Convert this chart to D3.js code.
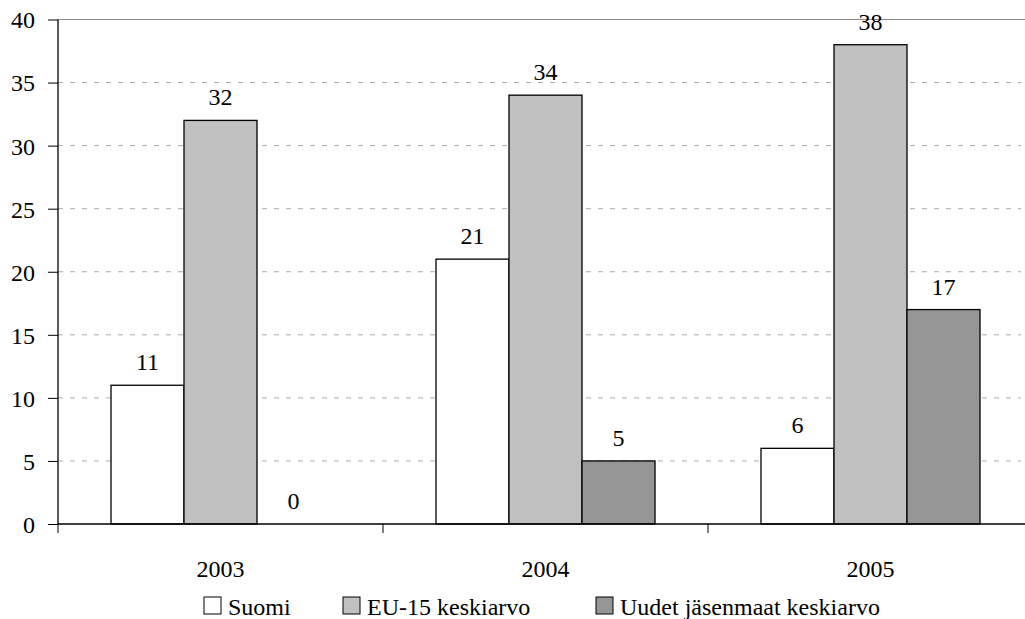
<!DOCTYPE html>
<html><head><meta charset="utf-8">
<script src="https://cdn.jsdelivr.net/npm/d3@7"></script>
<style>
svg text, text, #c text { font-family: "Liberation Serif", "Times New Roman", Tinos, serif !important; }
</style>
</head>
<body style="margin:0">
<svg id="c" width="1025" height="619" style="display:block"></svg>
<script>
const years = ["2003","2004","2005"];
const seriesNames = ["Suomi","EU-15 keskiarvo","Uudet jäsenmaat keskiarvo"];
const suomi = [11,21,6];
const eu15 = [32,34,38];
const uudet = [0,5,17];
const yTicks = [0,5,10,15,20,25,30,35,40];
const colors = ["#ffffff","#c0c0c0","#969696"];

const FONT = '"Liberation Serif", "Times New Roman", Tinos, serif';
const allSeries = [suomi, eu15, uudet];
const svg = d3.select("#c");
const L = 58, R = 1033, T = 19.5, B = 524;
const fs = 24;

const x = d3.scaleBand().domain(years).range([L, R]).paddingInner(0).paddingOuter(0);
const xs = d3.scaleBand().domain(seriesNames).range([53, x.bandwidth()-53]).padding(0);
const y = d3.scaleLinear().domain([0,40]).range([B, T]);

function serif(sel){ return sel.attr("font-size", fs).style("font-family", FONT, "important"); }

// gridlines
svg.append("g").selectAll("line").data(yTicks.filter(v=>v>0)).join("line")
  .attr("x1", L).attr("x2", v => v===40 ? 1025 : 1021)
  .attr("y1", v=>y(v)).attr("y2", v=>y(v))
  .attr("stroke", v => v===40 ? "#888" : "#aaa")
  .attr("stroke-width", 1)
  .attr("stroke-dasharray", v => v===40 ? null : "5,7");

// bars
const rows = [];
years.forEach((yr,i)=>seriesNames.forEach((s,j)=>rows.push({yr, s, j, v: allSeries[j][i]})));
svg.append("g").selectAll("rect").data(rows.filter(d=>d.v>0)).join("rect")
  .attr("x", d => x(d.yr)+xs(d.s))
  .attr("y", d => y(d.v))
  .attr("width", xs.bandwidth())
  .attr("height", d => y(0)-y(d.v))
  .attr("fill", d => colors[d.j])
  .attr("stroke", "#000").attr("stroke-width", 1.3);

// value labels
svg.selectAll("text.val").data(rows).join("text")
  .attr("class","val")
  .attr("x", d => x(d.yr)+xs(d.s)+xs.bandwidth()/2)
  .attr("y", d => y(d.v)-15)
  .attr("text-anchor","middle")
  .call(serif)
  .text(d => d.v);

// y axis (built from the scale)
const ya = svg.append("g").attr("transform", `translate(${L},0)`)
  .call(d3.axisLeft(y).tickValues(yTicks).tickSize(10).tickPadding(13));
ya.attr("font-family", FONT).attr("font-size", fs);
ya.select(".domain").attr("stroke","#000").attr("stroke-width",1.3).attr("d", `M0,${T}V${B}`);
ya.selectAll(".tick line").attr("stroke","#000");
ya.selectAll(".tick text").call(serif).attr("fill","#000").attr("dy","0.35em");

// x axis
svg.append("line").attr("x1", L).attr("x2", 1025).attr("y1", B).attr("y2", B)
  .attr("stroke","#000").attr("stroke-width",1.3);
const bounds = years.map(d=>x(d)).concat([x(years[years.length-1])+x.bandwidth()]);
svg.append("g").selectAll("line").data(bounds).join("line")
  .attr("x1", d=>d).attr("x2", d=>d).attr("y1", B).attr("y2", B+9)
  .attr("stroke","#000").attr("stroke-width",1);
svg.selectAll("text.yr").data(years).join("text")
  .attr("class","yr")
  .attr("x", d => x(d)+x.bandwidth()/2).attr("y", 577)
  .attr("text-anchor","middle")
  .call(serif).text(d=>d);

// legend
const legX = [204, 343, 596];
const lg = svg.append("g").selectAll("g").data(seriesNames).join("g")
  .attr("transform", (d,i)=>`translate(${legX[i]},0)`);
lg.append("rect").attr("x",0).attr("y",597).attr("width",17).attr("height",17)
  .attr("fill",(d,i)=>colors[i]).attr("stroke","#000").attr("stroke-width",1);
lg.append("text").attr("x",24).attr("y",615)
  .call(serif).text(d=>d);
</script></body></html>
